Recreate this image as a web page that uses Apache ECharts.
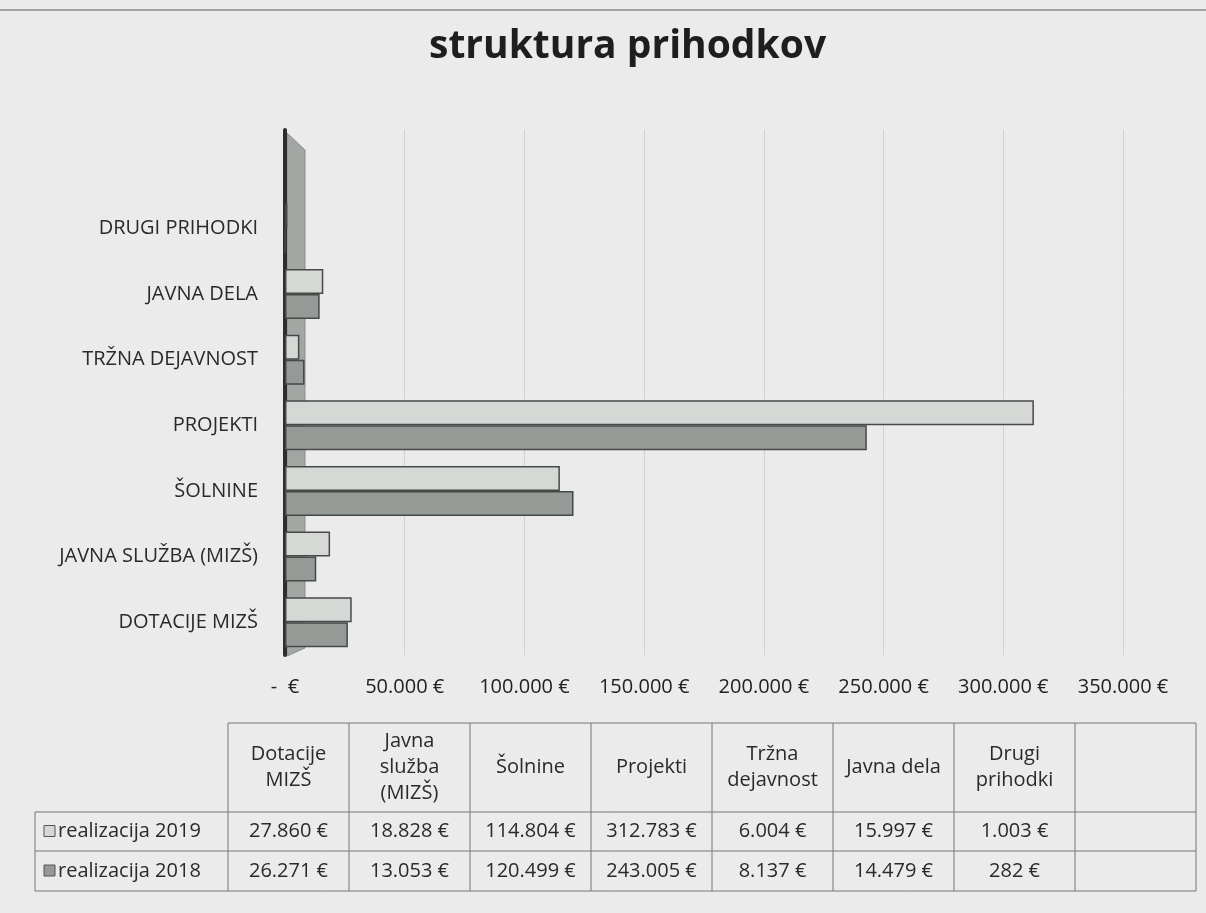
<!DOCTYPE html>
<html>
<head>
<meta charset="utf-8">
<script src="https://cdn.jsdelivr.net/npm/echarts@6/dist/echarts.min.js"></script>
<style>
html,body{margin:0;padding:0;background:#ebebeb;}
#c{width:1206px;height:913px;}
</style>
</head>
<body>
<div id="c"></div>
<script>
// ---- data ----
var categories = ['DOTACIJE MIZŠ', 'JAVNA SLUŽBA (MIZŠ)', 'ŠOLNINE', 'PROJEKTI', 'TRŽNA DEJAVNOST', 'JAVNA DELA', 'DRUGI PRIHODKI'];
var tableHeaders = ['Dotacije\nMIZŠ', 'Javna\nslužba\n(MIZŠ)', 'Šolnine', 'Projekti', 'Tržna\ndejavnost', 'Javna dela', 'Drugi\nprihodki'];
var seriesNames = ['realizacija 2019', 'realizacija 2018'];
var values2019 = [27860, 18828, 114804, 312783, 6004, 15997, 1003];
var values2018 = [26271, 13053, 120499, 243005, 8137, 14479, 282];
var xTicks = [0, 50000, 100000, 150000, 200000, 250000, 300000, 350000];

var FONT = 'Open Sans';
var FS = 20;
var col2019 = '#d6d8d6', col2018 = '#959a97', edge = '#454a47';

function fmt(v) {
  if (v === 0) return '-  €';
  return String(v).replace(/\B(?=(\d{3})+(?!\d))/g, '.') + ' €';
}

// ---- table built from the arrays ----
var tX0 = 228, colW = 121, labelX0 = 35;
var rowY = [723, 812, 851, 891];
var g = [];
var line = {stroke: '#767676', lineWidth: 1};
var nCols = tableHeaders.length + 1;
g.push({type: 'line', shape: {x1: tX0, y1: rowY[0], x2: tX0 + nCols * colW, y2: rowY[0]}, style: line});
for (var r = 1; r < rowY.length; r++) {
  g.push({type: 'line', shape: {x1: labelX0, y1: rowY[r], x2: tX0 + nCols * colW, y2: rowY[r]}, style: line});
}
g.push({type: 'line', shape: {x1: labelX0, y1: rowY[1], x2: labelX0, y2: rowY[3]}, style: line});
for (var c = 0; c <= nCols; c++) {
  g.push({type: 'line', shape: {x1: tX0 + c * colW, y1: rowY[0], x2: tX0 + c * colW, y2: rowY[3]}, style: line});
}
tableHeaders.forEach(function (h, i) {
  g.push({type: 'text', x: tX0 + i * colW + colW / 2, y: (rowY[0] + rowY[1]) / 2,
    style: {text: h, font: FS + 'px "' + FONT + '"', fill: '#2a2a2a', textAlign: 'center', textVerticalAlign: 'middle', lineHeight: 26}});
});
var rows = [values2019, values2018];
var keyCols = [col2019, col2018];
rows.forEach(function (vals, ri) {
  var cy = (rowY[ri + 1] + rowY[ri + 2]) / 2;
  g.push({type: 'rect', shape: {x: 44, y: cy - 6, width: 11, height: 11}, style: {fill: keyCols[ri], stroke: '#555', lineWidth: 1}});
  g.push({type: 'text', x: 58, y: cy, style: {text: seriesNames[ri], font: FS + 'px "' + FONT + '"', fill: '#2a2a2a', textVerticalAlign: 'middle'}});
  vals.forEach(function (v, i) {
    g.push({type: 'text', x: tX0 + i * colW + colW / 2, y: cy,
      style: {text: fmt(v), font: FS + 'px "' + FONT + '"', fill: '#2a2a2a', textAlign: 'center', textVerticalAlign: 'middle'}});
  });
});
// top scan edge
g.push({type: 'line', shape: {x1: 0, y1: 10, x2: 1206, y2: 10}, style: {stroke: '#8a8a8a', lineWidth: 1.5}});
// 3D side wall of the chart (decoration)
g.push({type: 'polygon', z: -1, shape: {points: [[287, 133], [305, 150], [305, 648], [287, 656]]},
  style: {fill: '#a3a7a4', stroke: '#8a8e8b', lineWidth: 1}});

var chart = echarts.init(document.getElementById('c'));
chart.setOption({
  backgroundColor: '#ebebeb',
  animation: false,
  title: {
    text: 'struktura prihodkov', left: 424, top: 22,
    textStyle: {fontFamily: FONT, fontSize: 39, fontWeight: 'bold', color: '#1e1e1e'}
  },
  grid: {left: 285, right: 83, top: 130, bottom: 258, containLabel: false},
  xAxis: {
    type: 'value', min: xTicks[0], max: xTicks[xTicks.length - 1], interval: xTicks[1] - xTicks[0],
    axisLine: {show: false}, axisTick: {show: false},
    axisLabel: {formatter: fmt, fontFamily: FONT, fontSize: FS, color: '#222', margin: 22},
    splitLine: {show: true, lineStyle: {color: '#d2d2d2', width: 1}}
  },
  yAxis: {
    type: 'category', data: categories, max: categories.length,
    axisLine: {show: true, lineStyle: {color: '#2b2f2d', width: 4}},
    axisTick: {show: false},
    axisLabel: {fontFamily: FONT, fontSize: FS, color: '#2a2a2a', margin: 27,
      formatter: function (v) { return v == null ? '' : v; }},
    splitLine: {show: false}
  },
  series: [
    {name: seriesNames[0], type: 'bar', data: values2019, barWidth: 25, barGap: '0%',
      itemStyle: {color: col2019, borderColor: edge, borderWidth: 1.5}},
    {name: seriesNames[1], type: 'bar', data: values2018, barWidth: 25, barGap: '0%',
      itemStyle: {color: col2018, borderColor: edge, borderWidth: 1.5}}
  ],
  graphic: g
});
</script>
</body>
</html>
